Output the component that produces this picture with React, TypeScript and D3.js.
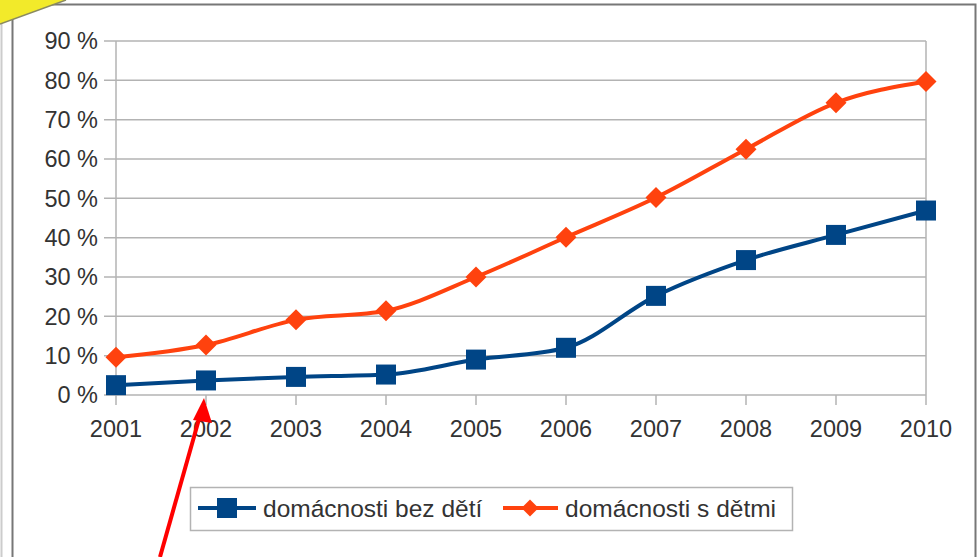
import React from 'react';
import * as d3 from 'd3';

const years = ['2001', '2002', '2003', '2004', '2005', '2006', '2007', '2008', '2009', '2010'];
const bezDeti = [2.5, 3.7, 4.6, 5.2, 9.0, 12.0, 25.2, 34.3, 40.7, 46.9];
const sDetmi = [9.6, 12.7, 19.1, 21.4, 30.0, 40.1, 50.2, 62.5, 74.3, 79.7];
const yTicks = [0, 10, 20, 30, 40, 50, 60, 70, 80, 90];
const seriesNames = ['domácnosti bez dětí', 'domácnosti s dětmi'];

const BLUE = '#004586';
const ORANGE = '#ff420e';
const FONT = '"Liberation Sans", Arial, sans-serif';

export default function App() {
  const width = 980, height = 557;
  const margin = { left: 116, right: 54, top: 41, bottom: 162 };

  const x = d3.scalePoint()
    .domain(years)
    .range([margin.left, width - margin.right]);

  const y = d3.scaleLinear()
    .domain([0, 90])
    .range([height - margin.bottom, margin.top]);

  const line = d3.line<number>()
    .x((d, i) => x(years[i]) as number)
    .y(d => y(d))
    .curve(d3.curveMonotoneX);

  const diamond = (cx, cy, r) => `M${cx},${cy - r}L${cx + r},${cy}L${cx},${cy + r}L${cx - r},${cy}Z`;

  let x0 = margin.left, x1 = width - margin.right, y0 = y(0);
  let ly = 508;

  return (
    <svg width={width} height={height} style={{ position: 'absolute', left: 0, top: 0, background: '#fff' }}>
      {/* frame of the slide */}
      <line x1={1.5} y1={0} x2={1.5} y2={height} stroke='#ccc' strokeWidth={2} />
      <path d={`M12.5,${height}V4.5H975.5V${height}`} fill='none' stroke='#777' strokeWidth={2} />
      <polygon points='0,0 66,0 0,24' fill='#f2ea2a' />
      <line x1={0} y1={24} x2={66} y2={0} stroke='#8a8a60' strokeWidth={1.5} />

      {/* grid */}
      {yTicks.map(t => (
        <line key={t} x1={x0 - 12} x2={x1} y1={y(t)} y2={y(t)} stroke='#b3b3b3' strokeWidth={1.5} />
      ))}
      <line x1={x0} x2={x0} y1={y(90)} y2={y0} stroke='#b3b3b3' strokeWidth={1.5} />
      <line x1={x1} x2={x1} y1={y(90)} y2={y0} stroke='#b3b3b3' strokeWidth={1.5} />
      {years.map(yr => (
        <line key={yr} x1={x(yr)} x2={x(yr)} y1={y0} y2={y0 + 10} stroke='#b3b3b3' strokeWidth={1.5} />
      ))}

      {yTicks.map(t => (
        <text key={t} x={x0 - 18} y={y(t)} dy='0.36em' textAnchor='end' fontFamily={FONT} fontSize={23.5} fill='#333'>
          {t} %
        </text>
      ))}
      {years.map(yr => (
        <text key={yr} x={x(yr)} y={y0 + 34} dy='0.36em' textAnchor='middle' fontFamily={FONT} fontSize={23.5} fill='#333'>
          {yr}
        </text>
      ))}

      {/* series */}
      <path d={line(sDetmi) as string} fill='none' stroke={ORANGE} strokeWidth={4} />
      {sDetmi.map((v, i) => (
        <path key={i} d={diamond(x(years[i]) as number, y(v), 10.5)} fill={ORANGE} />
      ))}
      <path d={line(bezDeti) as string} fill='none' stroke={BLUE} strokeWidth={4} />
      {bezDeti.map((v, i) => (
        <rect key={i} x={(x(years[i]) as number) - 10} y={y(v) - 10} width={20} height={20} fill={BLUE} />
      ))}

      {/* legend */}
      <rect x={190.5} y={487.5} width={602} height={43} fill='#fff' stroke='#b3b3b3' strokeWidth={1.5} />
      <line x1={198} x2={256} y1={ly} y2={ly} stroke={BLUE} strokeWidth={4} />
      <rect x={217} y={ly - 10} width={20} height={20} fill={BLUE} />
      <text x={263} y={ly} dy='0.36em' fontFamily={FONT} fontSize={24.5} fill='#333'>{seriesNames[0]}</text>
      <line x1={503} x2={558} y1={ly} y2={ly} stroke={ORANGE} strokeWidth={4} />
      <path d={diamond(530, ly, 8.5)} fill={ORANGE} />
      <text x={565} y={ly} dy='0.36em' fontFamily={FONT} fontSize={24.5} fill='#333'>{seriesNames[1]}</text>

      {/* red arrow */}
      <line x1={160} y1={557} x2={201} y2={412} stroke='#f00' strokeWidth={4} />
      <polygon points='204,398 193,420 212,423' fill='#f00' />
    </svg>
  );
}
